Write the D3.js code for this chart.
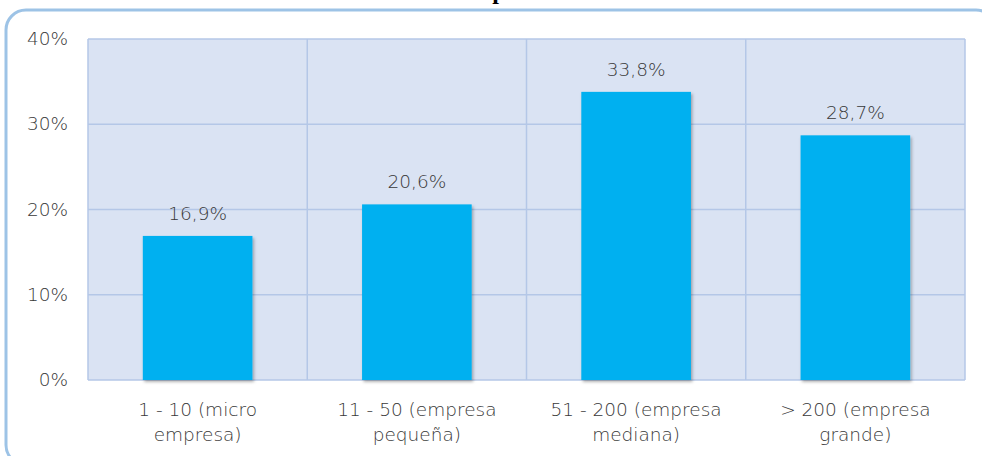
<!DOCTYPE html>
<html>
<head>
<meta charset="utf-8">
<script src="https://cdn.jsdelivr.net/npm/d3@7"></script>
<style>
  html, body { margin: 0; padding: 0; background: #ffffff; }
  svg { display: block; }
  text { font-family: "DejaVu Sans", sans-serif; font-weight: 200; fill: #383838; }
</style>
</head>
<body>
<svg id="chart" width="982" height="456"></svg>
<script>
// Share of companies by size
const categories = [
  ["1 - 10 (micro", "empresa)"],
  ["11 - 50 (empresa", "pequeña)"],
  ["51 - 200 (empresa", "mediana)"],
  ["> 200 (empresa", "grande)"]
];
const values = [16.9, 20.6, 33.8, 28.7];
const valueLabels = ["16,9%", "20,6%", "33,8%", "28,7%"];
const yTicks = [0, 10, 20, 30, 40];
const yTickLabels = ["0%", "10%", "20%", "30%", "40%"];

const svg = d3.select("#chart");
const plot = { left: 88, right: 965, top: 39, bottom: 380 };
const fontSize = "18.5px";

// Chart frame with rounded corners
svg.append("rect")
  .attr("x", 6).attr("y", 10)
  .attr("width", 990).attr("height", 455)
  .attr("rx", 20).attr("ry", 20)
  .attr("fill", "#ffffff")
  .attr("stroke", "#9dc3e6")
  .attr("stroke-width", 3);

// Title (runs off the top edge)
svg.append("text")
  .attr("x", 499).attr("y", -1)
  .attr("text-anchor", "middle")
  .style("font-family", "'Liberation Serif', serif")
  .style("font-weight", "bold")
  .style("font-size", "24px")
  .style("fill", "#000")
  .text("p");

const x = d3.scaleBand()
  .domain(d3.range(categories.length))
  .range([plot.left, plot.right])
  .paddingInner(0)
  .paddingOuter(0);

const y = d3.scaleLinear()
  .domain([0, 40])
  .range([plot.bottom, plot.top]);

// Plot area background
svg.append("rect")
  .attr("x", plot.left).attr("y", plot.top)
  .attr("width", plot.right - plot.left)
  .attr("height", plot.bottom - plot.top)
  .attr("fill", "#dae3f3");

const gridColor = "#b4c7e7";

// Horizontal gridlines
svg.append("g")
  .selectAll("line")
  .data(yTicks)
  .join("line")
  .attr("x1", plot.left).attr("x2", plot.right)
  .attr("y1", d => y(d)).attr("y2", d => y(d))
  .attr("stroke", gridColor)
  .attr("stroke-width", 1.5);

// Vertical gridlines at category boundaries
svg.append("g")
  .selectAll("line")
  .data(d3.range(categories.length + 1))
  .join("line")
  .attr("x1", i => i < categories.length ? x(i) : plot.right)
  .attr("x2", i => i < categories.length ? x(i) : plot.right)
  .attr("y1", plot.top).attr("y2", plot.bottom)
  .attr("stroke", gridColor)
  .attr("stroke-width", 1.5);

// Soft shadow under bars
const defs = svg.append("defs");
const f = defs.append("filter").attr("id", "shadow")
  .attr("x", "-10%").attr("y", "-10%").attr("width", "130%").attr("height", "130%");
f.append("feDropShadow")
  .attr("dx", 1.5).attr("dy", 2).attr("stdDeviation", 1.5)
  .attr("flood-color", "#000").attr("flood-opacity", 0.3);

const barW = x.bandwidth() * 0.5;

svg.append("g")
  .selectAll("rect")
  .data(values)
  .join("rect")
  .attr("x", (d, i) => x(i) + (x.bandwidth() - barW) / 2)
  .attr("y", d => y(d))
  .attr("width", barW)
  .attr("height", d => y(0) - y(d))
  .attr("fill", "#00b0f0")
  .attr("filter", "url(#shadow)");

// Value labels
svg.append("g")
  .selectAll("text")
  .data(values)
  .join("text")
  .attr("x", (d, i) => x(i) + x.bandwidth() / 2)
  .attr("y", d => y(d) - 16)
  .attr("text-anchor", "middle")
  .style("font-size", fontSize)
  .text((d, i) => valueLabels[i]);

// Y axis labels
svg.append("g")
  .selectAll("text")
  .data(yTicks)
  .join("text")
  .attr("x", 68)
  .attr("y", d => y(d) + 6)
  .attr("text-anchor", "end")
  .style("font-size", fontSize)
  .text((d, i) => yTickLabels[i]);

// Category labels
const cat = svg.append("g")
  .selectAll("text")
  .data(categories)
  .join("text")
  .attr("x", (d, i) => x(i) + x.bandwidth() / 2)
  .attr("y", 416)
  .attr("text-anchor", "middle")
  .style("font-size", fontSize);
cat.selectAll("tspan")
  .data(d => d)
  .join("tspan")
  .attr("x", function () { return d3.select(this.parentNode).attr("x"); })
  .attr("dy", (d, j) => j === 0 ? 0 : 25)
  .text(d => d);
</script>
</body>
</html>
